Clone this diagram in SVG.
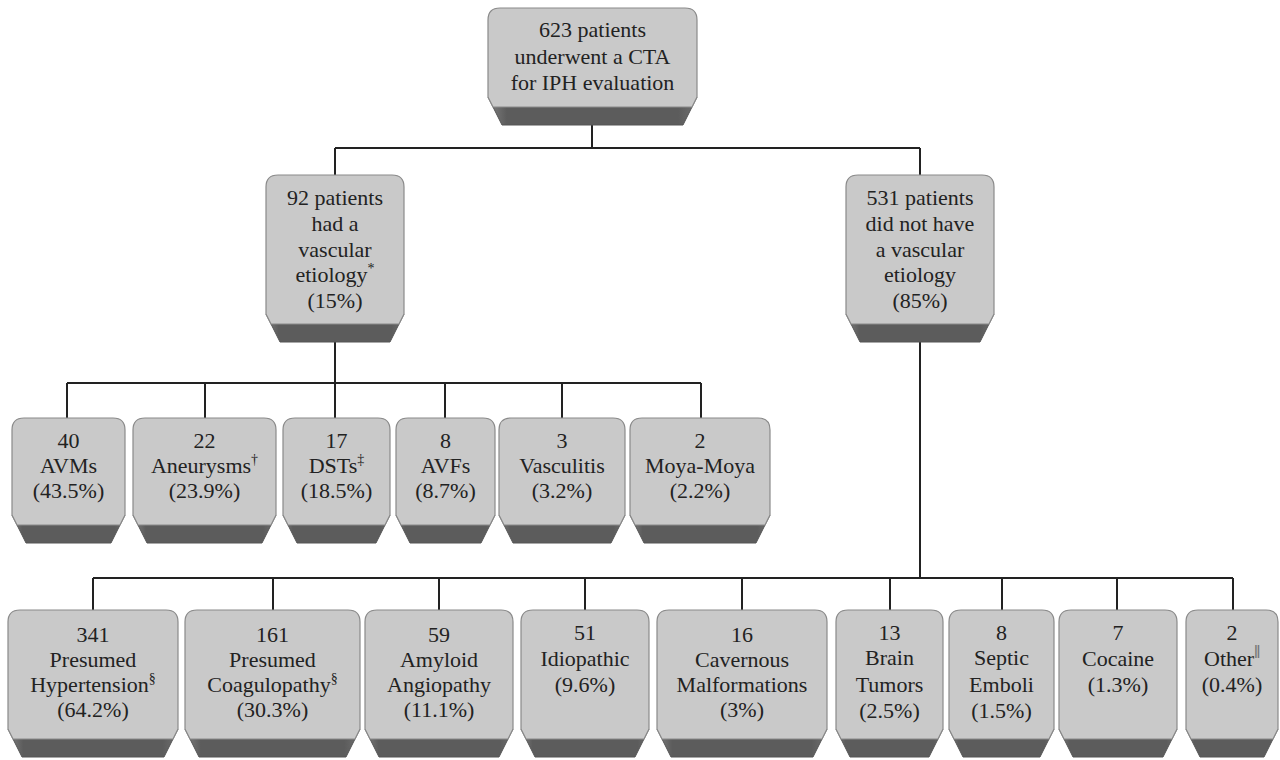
<svg xmlns="http://www.w3.org/2000/svg" width="1280" height="760" viewBox="0 0 1280 760">
<defs>
<linearGradient id="band" x1="0" y1="0" x2="1" y2="0">
<stop offset="0" stop-color="#808080"/>
<stop offset="0.09" stop-color="#5c5c5c"/>
<stop offset="0.91" stop-color="#5c5c5c"/>
<stop offset="1" stop-color="#707070"/>
</linearGradient>
<style>
.dark{fill:url(#band);stroke:#555;stroke-width:1}
.face{fill:#c9c9c9;stroke:#8a8a8a;stroke-width:1.2}
.lbl text{font-size:22px;fill:#222;text-anchor:middle}
.lbl .sup{font-size:14px}
.lbl .bar{fill:#777;font-size:18px;font-weight:bold}
.conn{fill:none;stroke:#222;stroke-width:2}
</style>
</defs>
<rect width="1280" height="760" fill="#fff"/>
<g id="connectors" class="conn">
<path d="M592 125V148M335 148H920M335 148V175M920 148V175"/>
<path d="M335 342V418M67 383H701M67 383V418M205 383V418M445 383V418M562 383V418M701 383V418"/>
<path d="M920 342V578M93 578H1233M93 578V610M273 578V610M439 578V610M585 578V610M742 578V610M890 578V610M1002 578V610M1117 578V610M1233 578V610"/>
</g>
<g class="lbl" font-family="'Liberation Serif', 'Times New Roman', serif">
<g id="n_top">
<path class="dark" d="M488 97 L697 97 L683 125 L502 125 Z"/>
<path class="face" d="M488 20 Q488 8 500 8 L685 8 Q697 8 697 20 L697 97 L692 107 L493 107 L488 97 Z"/>
<text x="592.5" y="37">623 patients</text>
<text x="592.5" y="63.5">underwent a CTA</text>
<text x="592.5" y="90">for IPH evaluation</text>
</g>
<g id="n_vasc">
<path class="dark" d="M266 314 L404 314 L390 342 L280 342 Z"/>
<path class="face" d="M266 187 Q266 175 278 175 L392 175 Q404 175 404 187 L404 314 L399 324 L271 324 L266 314 Z"/>
<text x="335" y="205">92 patients</text>
<text x="335" y="231">had a</text>
<text x="335" y="257">vascular</text>
<text x="335" y="282">etiology<tspan class="sup" dy="-9">*</tspan></text>
<text x="335" y="308">(15%)</text>
</g>
<g id="n_nonvasc">
<path class="dark" d="M846 314 L994 314 L980 342 L860 342 Z"/>
<path class="face" d="M846 187 Q846 175 858 175 L982 175 Q994 175 994 187 L994 314 L989 324 L851 324 L846 314 Z"/>
<text x="920" y="205">531 patients</text>
<text x="920" y="231">did not have</text>
<text x="920" y="257">a vascular</text>
<text x="920" y="282">etiology</text>
<text x="920" y="308">(85%)</text>
</g>
<g id="n_avm">
<path class="dark" d="M12 515 L125 515 L111 543 L26 543 Z"/>
<path class="face" d="M12 430 Q12 418 24 418 L113 418 Q125 418 125 430 L125 515 L120 525 L17 525 L12 515 Z"/>
<text x="68.5" y="448">40</text>
<text x="68.5" y="473">AVMs</text>
<text x="68.5" y="498">(43.5%)</text>
</g>
<g id="n_aneurysm">
<path class="dark" d="M133 515 L276 515 L262 543 L147 543 Z"/>
<path class="face" d="M133 430 Q133 418 145 418 L264 418 Q276 418 276 430 L276 515 L271 525 L138 525 L133 515 Z"/>
<text x="204.5" y="448">22</text>
<text x="204.5" y="473">Aneurysms<tspan class="sup" dy="-9">†</tspan></text>
<text x="204.5" y="498">(23.9%)</text>
</g>
<g id="n_dst">
<path class="dark" d="M283 515 L390 515 L376 543 L297 543 Z"/>
<path class="face" d="M283 430 Q283 418 295 418 L378 418 Q390 418 390 430 L390 515 L385 525 L288 525 L283 515 Z"/>
<text x="336.5" y="448">17</text>
<text x="336.5" y="473">DSTs<tspan class="sup" dy="-9">‡</tspan></text>
<text x="336.5" y="498">(18.5%)</text>
</g>
<g id="n_avf">
<path class="dark" d="M396 515 L495 515 L481 543 L410 543 Z"/>
<path class="face" d="M396 430 Q396 418 408 418 L483 418 Q495 418 495 430 L495 515 L490 525 L401 525 L396 515 Z"/>
<text x="445.5" y="448">8</text>
<text x="445.5" y="473">AVFs</text>
<text x="445.5" y="498">(8.7%)</text>
</g>
<g id="n_vasculitis">
<path class="dark" d="M499 515 L625 515 L611 543 L513 543 Z"/>
<path class="face" d="M499 430 Q499 418 511 418 L613 418 Q625 418 625 430 L625 515 L620 525 L504 525 L499 515 Z"/>
<text x="562" y="448">3</text>
<text x="562" y="473">Vasculitis</text>
<text x="562" y="498">(3.2%)</text>
</g>
<g id="n_moya">
<path class="dark" d="M630 515 L770 515 L756 543 L644 543 Z"/>
<path class="face" d="M630 430 Q630 418 642 418 L758 418 Q770 418 770 430 L770 515 L765 525 L635 525 L630 515 Z"/>
<text x="700" y="448">2</text>
<text x="700" y="473">Moya-Moya</text>
<text x="700" y="498">(2.2%)</text>
</g>
<g id="n_htn">
<path class="dark" d="M8 729 L178 729 L164 757 L22 757 Z"/>
<path class="face" d="M8 622 Q8 610 20 610 L166 610 Q178 610 178 622 L178 729 L173 739 L13 739 L8 729 Z"/>
<text x="93" y="642">341</text>
<text x="93" y="667">Presumed</text>
<text x="93" y="692">Hypertension<tspan class="sup" dy="-9">§</tspan></text>
<text x="93" y="717">(64.2%)</text>
</g>
<g id="n_coag">
<path class="dark" d="M185 729 L360 729 L346 757 L199 757 Z"/>
<path class="face" d="M185 622 Q185 610 197 610 L348 610 Q360 610 360 622 L360 729 L355 739 L190 739 L185 729 Z"/>
<text x="272.5" y="642">161</text>
<text x="272.5" y="667">Presumed</text>
<text x="272.5" y="692">Coagulopathy<tspan class="sup" dy="-9">§</tspan></text>
<text x="272.5" y="717">(30.3%)</text>
</g>
<g id="n_amyloid">
<path class="dark" d="M365 729 L513 729 L499 757 L379 757 Z"/>
<path class="face" d="M365 622 Q365 610 377 610 L501 610 Q513 610 513 622 L513 729 L508 739 L370 739 L365 729 Z"/>
<text x="439" y="642">59</text>
<text x="439" y="667">Amyloid</text>
<text x="439" y="692">Angiopathy</text>
<text x="439" y="717">(11.1%)</text>
</g>
<g id="n_idio">
<path class="dark" d="M521 729 L649 729 L635 757 L535 757 Z"/>
<path class="face" d="M521 622 Q521 610 533 610 L637 610 Q649 610 649 622 L649 729 L644 739 L526 739 L521 729 Z"/>
<text x="585" y="640">51</text>
<text x="585" y="666">Idiopathic</text>
<text x="585" y="692">(9.6%)</text>
</g>
<g id="n_cav">
<path class="dark" d="M657 729 L827 729 L813 757 L671 757 Z"/>
<path class="face" d="M657 622 Q657 610 669 610 L815 610 Q827 610 827 622 L827 729 L822 739 L662 739 L657 729 Z"/>
<text x="742" y="642">16</text>
<text x="742" y="667">Cavernous</text>
<text x="742" y="692">Malformations</text>
<text x="742" y="717">(3%)</text>
</g>
<g id="n_tumor">
<path class="dark" d="M836 729 L943 729 L929 757 L850 757 Z"/>
<path class="face" d="M836 622 Q836 610 848 610 L931 610 Q943 610 943 622 L943 729 L938 739 L841 739 L836 729 Z"/>
<text x="889.5" y="640">13</text>
<text x="889.5" y="665">Brain</text>
<text x="889.5" y="692">Tumors</text>
<text x="889.5" y="718">(2.5%)</text>
</g>
<g id="n_septic">
<path class="dark" d="M949 729 L1054 729 L1040 757 L963 757 Z"/>
<path class="face" d="M949 622 Q949 610 961 610 L1042 610 Q1054 610 1054 622 L1054 729 L1049 739 L954 739 L949 729 Z"/>
<text x="1001.5" y="640">8</text>
<text x="1001.5" y="665">Septic</text>
<text x="1001.5" y="692">Emboli</text>
<text x="1001.5" y="718">(1.5%)</text>
</g>
<g id="n_cocaine">
<path class="dark" d="M1059 729 L1177 729 L1163 757 L1073 757 Z"/>
<path class="face" d="M1059 622 Q1059 610 1071 610 L1165 610 Q1177 610 1177 622 L1177 729 L1172 739 L1064 739 L1059 729 Z"/>
<text x="1118" y="640">7</text>
<text x="1118" y="666">Cocaine</text>
<text x="1118" y="692">(1.3%)</text>
</g>
<g id="n_other">
<path class="dark" d="M1186 729 L1278 729 L1264 757 L1200 757 Z"/>
<path class="face" d="M1186 622 Q1186 610 1198 610 L1266 610 Q1278 610 1278 622 L1278 729 L1273 739 L1191 739 L1186 729 Z"/>
<text x="1232" y="640">2</text>
<text x="1232" y="666">Other<tspan class="sup bar" dy="-8">‖</tspan></text>
<text x="1232" y="692">(0.4%)</text>
</g>
</g>
</svg>
